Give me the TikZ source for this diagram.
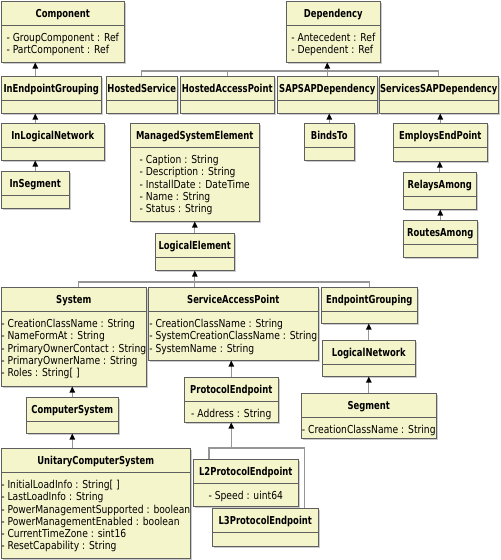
\documentclass[tikz,border=0pt]{standalone}
\usepackage{fontspec}
\setmainfont{DejaVu Sans}[FakeStretch=0.84, BoldFeatures={FakeStretch=0.77}]
\usepackage{tikz}
\usetikzlibrary{positioning, arrows.meta, shadows}

\definecolor{clsfill}{RGB}{245,245,204}
\definecolor{clsedge}{RGB}{95,95,95}
\definecolor{linkgray}{RGB}{150,150,150}

% one class box: name, top left, width, height, title, attributes
\newcommand\umlclass[6]{%
  \node[cls, minimum width=#3*0.75pt, minimum height=#4*0.75pt] (#1) at #2 {};
  \draw[clsedge] ([yshift=-18pt]#1.north west) -- ([yshift=-18pt]#1.north east);
  \node[clsname] (#1-name) at ([yshift=-12.4pt]#1.north) {#5};
  \node[clsattr] (#1-attr) at ([yshift=-24pt]#1.north) {#6};
}

\begin{document}
\begin{tikzpicture}[
        x=0.75pt, y=-0.75pt,
        cls/.style={draw=clsedge, fill=clsfill, anchor=north west, inner sep=0pt,
          drop shadow={shadow xshift=1pt, shadow yshift=-1pt, fill=black!40}},
        clsname/.style={anchor=base, inner sep=0pt, font=\bfseries\fontsize{8.2}{9.2}\selectfont},
        clsattr/.style={anchor=north, align=left, inner sep=0pt, font=\fontsize{8.2}{9.2}\selectfont},
        link/.style={draw=linkgray, line width=1pt},
        inh/.style={link, -{Triangle[color=black, length=4.5pt, width=4pt]}}
      ]
      \useasboundingbox (0,0) rectangle (500,560);

      % top row
      \umlclass{comp}{(1,1)}{123}{61}{Component}{- GroupComponent : Ref\\- PartComponent : Ref}
      \umlclass{dep}{(286,1)}{94}{61}{Dependency}{- Antecedent : Ref\\- Dependent : Ref}
      \umlclass{ieg}{(1,76)}{100}{37}{InEndpointGrouping}{}
      \umlclass{hs}{(106,76)}{71}{37}{HostedService}{}
      \umlclass{hap}{(180,76)}{94}{37}{HostedAccessPoint}{}
      \umlclass{sapdep}{(277,76)}{100}{37}{SAPSAPDependency}{}
      \umlclass{svcdep}{(379,76)}{119}{37}{ServicesSAPDependency}{}
      \umlclass{iln}{(1,123)}{103}{37}{InLogicalNetwork}{}
      \umlclass{inseg}{(1,171)}{68}{37}{InSegment}{}
      \umlclass{mse}{(130,123)}{129}{98}{ManagedSystemElement}{- Caption : String\\- Description : String\\- InstallDate : DateTime\\- Name : String\\- Status : String}
      \umlclass{binds}{(304,123)}{50}{37}{BindsTo}{}
      \umlclass{employs}{(393,123)}{94}{38}{EmploysEndPoint}{}
      \umlclass{relays}{(403,172)}{73}{37}{RelaysAmong}{}
      \umlclass{routes}{(403,220)}{74}{37}{RoutesAmong}{}
      \umlclass{logel}{(155,233)}{79}{37}{LogicalElement}{}

      % lower part
      \umlclass{sys}{(1,287)}{145}{99}{System}{- CreationClassName : String\\- NameFormAt : String\\- PrimaryOwnerContact : String\\- PrimaryOwnerName : String\\- Roles : String[ ]}
      \umlclass{sap}{(148,287)}{170}{73}{ServiceAccessPoint}{- CreationClassName : String\\- SystemCreationClassName : String\\- SystemName : String}
      \umlclass{epg}{(321,287)}{96}{36}{EndpointGrouping}{}
      \umlclass{lnet}{(322,340)}{93}{36}{LogicalNetwork}{}
      \umlclass{pep}{(184,377)}{94}{45}{ProtocolEndpoint}{- Address : String}
      \umlclass{seg}{(301,393)}{135}{45}{Segment}{- CreationClassName : String}
      \umlclass{cs}{(26,397)}{92}{36}{ComputerSystem}{}
      \umlclass{ucs}{(1,448)}{189}{110}{UnitaryComputerSystem}{- InitialLoadInfo : String[ ]\\- LastLoadInfo : String\\- PowerManagementSupported : boolean\\- PowerManagementEnabled : boolean\\- CurrentTimeZone : sint16\\- ResetCapability : String}
      \umlclass{l2}{(193,459)}{105}{47}{L2ProtocolEndpoint}{- Speed : uint64}
      \umlclass{l3}{(212,508)}{106}{38}{L3ProtocolEndpoint}{}

      % bar levels and ticks
      \coordinate (depbar) at (0,71);
      \coordinate (lebar) at (0,282);
      \coordinate (pebar) at (0,448);
      \coordinate (systop) at ([xshift=3.4pt]sys.north);
      \coordinate (l2top) at ([xshift=12pt]l2.north west);
      \coordinate (l3top) at ([xshift=-10.5pt]l3.north east);

      \draw[inh] (ieg.north -| inseg.north) -- (comp.south -| inseg.north);
      \draw[inh] (iln.north -| inseg.north) -- (ieg.south -| inseg.north);
      \draw[inh] (inseg.north) -- (iln.south -| inseg.north);

      \draw[link] (hs.north) -- (hs.north |- depbar) -- (svcdep.north |- depbar) -- (svcdep.north);
      \draw[link] (hap.north) -- (hap.north |- depbar);
      \draw[inh] (sapdep.north) -- (sapdep.north |- dep.south);
      \draw[inh] (binds.north) -- (binds.north |- sapdep.south);
      \draw[inh] (employs.north) -- (employs.north |- svcdep.south);
      \draw[inh] (relays.north) -- (relays.north |- employs.south);
      \draw[inh] (routes.north) -- (routes.north |- relays.south);

      \draw[inh] (logel.north) -- (logel.north |- mse.south);
      \draw[link] (systop) -- (systop |- lebar) -- (epg.north |- lebar) -- (epg.north);
      \draw[inh] (logel.south |- sap.north) -- (logel.south);
      \draw[inh] (lnet.north) -- (lnet.north |- epg.south);
      \draw[inh] (seg.north) -- (seg.north |- lnet.south);
      \draw[inh] (cs.north) -- (cs.north |- sys.south);
      \draw[inh] (ucs.north -| cs.south) -- (cs.south);
      \draw[inh] (pep.north) -- (pep.north |- sap.south);
      \draw[link] (l2top) -- (l2top |- pebar) -- (l3top |- pebar) -- (l3top);
      \draw[inh] (pep.south |- pebar) -- (pep.south);
    \end{tikzpicture}
\end{document}
